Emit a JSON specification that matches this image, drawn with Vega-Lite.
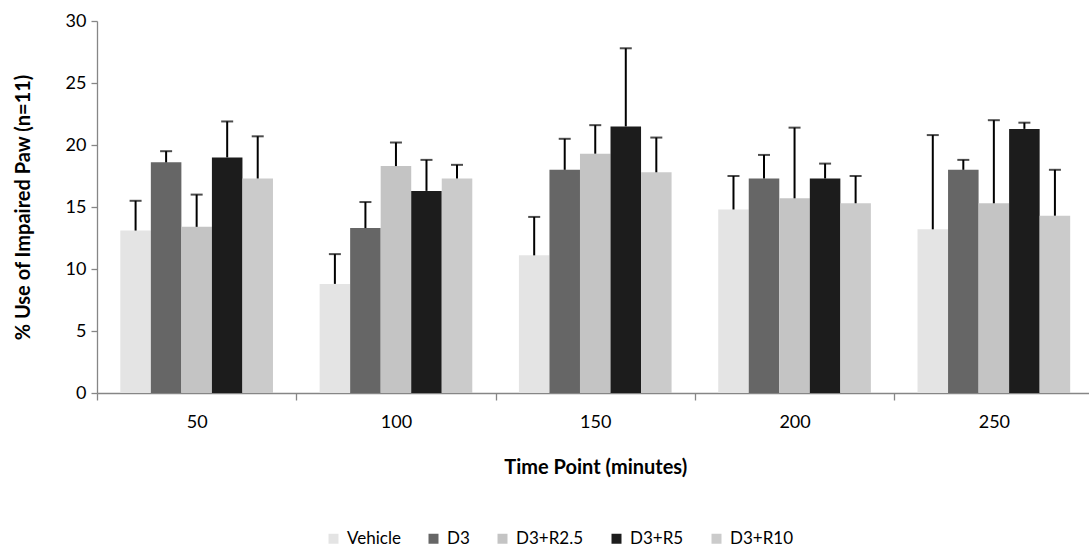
{
  "$schema": "https://vega.github.io/schema/vega-lite/v6.json",
  "width": 992,
  "height": 372,
  "autosize": {"type": "none"},
  "padding": {"left": 97, "top": 21, "right": 0, "bottom": 161},
  "background": "white",
  "data": {
    "values": [
      {"time": "50", "group": "Vehicle", "mean": 13.1, "upper": 15.5},
      {"time": "50", "group": "D3", "mean": 18.6, "upper": 19.5},
      {"time": "50", "group": "D3+R2.5", "mean": 13.4, "upper": 16.0},
      {"time": "50", "group": "D3+R5", "mean": 19.0, "upper": 21.9},
      {"time": "50", "group": "D3+R10", "mean": 17.3, "upper": 20.7},
      {"time": "100", "group": "Vehicle", "mean": 8.8, "upper": 11.2},
      {"time": "100", "group": "D3", "mean": 13.3, "upper": 15.4},
      {"time": "100", "group": "D3+R2.5", "mean": 18.3, "upper": 20.2},
      {"time": "100", "group": "D3+R5", "mean": 16.3, "upper": 18.8},
      {"time": "100", "group": "D3+R10", "mean": 17.3, "upper": 18.4},
      {"time": "150", "group": "Vehicle", "mean": 11.1, "upper": 14.2},
      {"time": "150", "group": "D3", "mean": 18.0, "upper": 20.5},
      {"time": "150", "group": "D3+R2.5", "mean": 19.3, "upper": 21.6},
      {"time": "150", "group": "D3+R5", "mean": 21.5, "upper": 27.8},
      {"time": "150", "group": "D3+R10", "mean": 17.8, "upper": 20.6},
      {"time": "200", "group": "Vehicle", "mean": 14.8, "upper": 17.5},
      {"time": "200", "group": "D3", "mean": 17.3, "upper": 19.2},
      {"time": "200", "group": "D3+R2.5", "mean": 15.7, "upper": 21.4},
      {"time": "200", "group": "D3+R5", "mean": 17.3, "upper": 18.5},
      {"time": "200", "group": "D3+R10", "mean": 15.3, "upper": 17.5},
      {"time": "250", "group": "Vehicle", "mean": 13.2, "upper": 20.8},
      {"time": "250", "group": "D3", "mean": 18.0, "upper": 18.8},
      {"time": "250", "group": "D3+R2.5", "mean": 15.3, "upper": 22.0},
      {"time": "250", "group": "D3+R5", "mean": 21.3, "upper": 21.8},
      {"time": "250", "group": "D3+R10", "mean": 14.3, "upper": 18.0}
    ]
  },
  "encoding": {
    "x": {
      "field": "time",
      "type": "ordinal",
      "sort": ["50", "100", "150", "200", "250"],
      "scale": {"paddingInner": 0.234, "paddingOuter": 0.117, "range": [0, 996.5]},
      "axis": {
        "title": "Time Point (minutes)",
        "labelAngle": 0,
        "tickOffset": -99.65,
        "labelOffset": 99.65,
        "tickSize": 7,
        "labelPadding": 13,
        "titlePadding": 26,
        "titleFontSize": 20
      }
    },
    "xOffset": {
      "field": "group",
      "type": "nominal",
      "sort": ["Vehicle", "D3", "D3+R2.5", "D3+R5", "D3+R10"],
      "scale": {"paddingInner": 0, "paddingOuter": 0}
    }
  },
  "layer": [
    {
      "mark": {"type": "bar"},
      "encoding": {
        "y": {
          "field": "mean",
          "type": "quantitative",
          "scale": {"domain": [0, 30], "nice": false},
          "axis": {
            "title": "% Use of Impaired Paw (n=11)",
            "values": [0, 5, 10, 15, 20, 25, 30],
            "grid": false,
            "tickSize": 6,
            "labelPadding": 5,
            "titlePadding": 32,
            "titleFontSize": 20
          }
        },
        "color": {
          "field": "group",
          "type": "nominal",
          "sort": ["Vehicle", "D3", "D3+R2.5", "D3+R5", "D3+R10"],
          "scale": {
            "domain": ["Vehicle", "D3", "D3+R2.5", "D3+R5", "D3+R10"],
            "range": ["#e4e4e4", "#666666", "#c4c4c4", "#1c1c1c", "#cbcbcb"]
          },
          "legend": {
            "title": null,
            "orient": "none",
            "direction": "horizontal",
            "legendX": 228,
            "legendY": 509,
            "symbolType": "square",
            "symbolSize": 100,
            "symbolStrokeWidth": 0,
            "symbolOpacity": 1,
            "labelFontSize": 17,
            "labelFont": "Lato",
            "labelColor": "#000000",
            "columnPadding": 24,
            "labelOffset": 5
          }
        }
      }
    },
    {
      "mark": {"type": "rule", "color": "#000000", "strokeWidth": 2},
      "encoding": {
        "y": {"field": "mean", "type": "quantitative"},
        "y2": {"field": "upper"}
      }
    },
    {
      "mark": {"type": "tick", "color": "#000000", "thickness": 2, "size": 12, "orient": "horizontal"},
      "encoding": {
        "y": {"field": "upper", "type": "quantitative"}
      }
    }
  ],
  "config": {
    "view": {"stroke": null},
    "font": "Lato",
    "axis": {
      "domainColor": "#868686",
      "tickColor": "#868686",
      "domainWidth": 1.3,
      "tickWidth": 1.3,
      "labelColor": "#000000",
      "labelFont": "Lato",
      "labelFontSize": 18,
      "titleFont": "Lato",
      "titleFontSize": 20,
      "titleFontWeight": "bold",
      "titleColor": "#000000"
    }
  }
}
